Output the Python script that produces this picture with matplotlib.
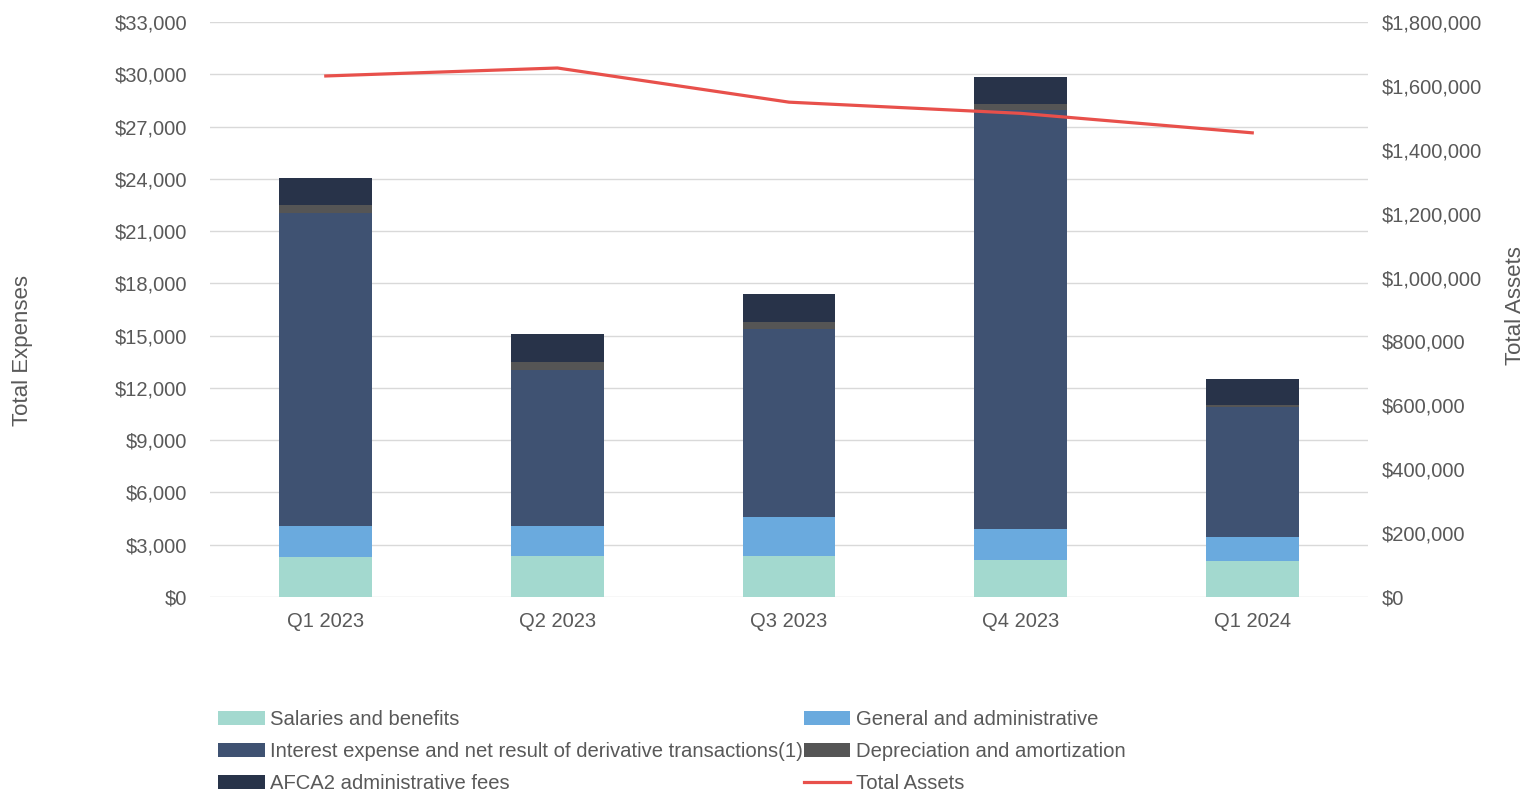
import matplotlib.pyplot as plt
import numpy as np
from matplotlib.ticker import FuncFormatter

OUTPUT_PATH = "out.png"

quarters = ["Q1 2023", "Q2 2023", "Q3 2023", "Q4 2023", "Q1 2024"]

salaries = [2300, 2340, 2345, 2120, 2080]
general_admin = [1765, 1705, 2250, 1795, 1345]
interest = [17980, 9010, 10770, 24030, 7480]
depreciation = [440, 440, 425, 345, 95]
afca_fees = [1570, 1590, 1600, 1530, 1500]

total_assets = [1631000, 1656000, 1549000, 1514000, 1453000]

series_names = [
    "Salaries and benefits",
    "General and administrative",
    "Interest expense and net result of derivative transactions(1)",
    "Depreciation and amortization",
    "AFCA2 administrative fees",
]
series_colors = ["#a3d9cf", "#6aaade", "#3f5272", "#555555", "#283349"]
line_color = "#e8504b"
text_color = "#595959"
grid_color = "#d9d9d9"


def money(v, pos):
    return "${:,.0f}".format(v)


def main():
    plt.rcParams["font.family"] = ["Liberation Sans", "DejaVu Sans"]
    plt.rcParams["font.size"] = 14.5

    fig = plt.figure(figsize=(15.26, 7.91), dpi=100)
    ax = fig.add_axes([0.1376, 0.2453, 0.7589, 0.7269])
    ax2 = ax.twinx()

    x = np.arange(len(quarters))
    bottom = np.zeros(len(quarters))
    handles = []
    for name, vals, color in zip(series_names,
                                 [salaries, general_admin, interest, depreciation, afca_fees],
                                 series_colors):
        b = ax.bar(x, vals, width=0.4, bottom=bottom, color=color, label=name, zorder=3)
        handles.append(b)
        bottom += np.array(vals)

    line, = ax2.plot(x, total_assets, color=line_color, linewidth=2.3, label="Total Assets")

    ax.set_xlim(-0.5, len(quarters) - 0.5)
    ax.set_ylim(0, 33000)
    ax.set_yticks(np.arange(0, 33001, 3000))
    ax.yaxis.set_major_formatter(FuncFormatter(money))
    ax2.set_ylim(0, 1800000)
    ax2.set_yticks(np.arange(0, 1800001, 200000))
    ax2.yaxis.set_major_formatter(FuncFormatter(money))

    ax.set_xticks(x)
    ax.set_xticklabels(quarters)
    ax.grid(axis="y", color=grid_color, linewidth=1, zorder=0)
    ax.set_axisbelow(True)

    for a in (ax, ax2):
        for s in a.spines.values():
            s.set_visible(False)
        a.tick_params(length=0, colors=text_color, labelsize=14.5)
    ax.tick_params(axis="y", pad=16.5)
    ax2.tick_params(axis="y", pad=10)
    ax.tick_params(axis="x", pad=11)

    ax.set_ylabel("Total Expenses", color=text_color, fontsize=16, va="center")
    ax.yaxis.set_label_coords(-0.162, 0.428)
    ax2.set_ylabel("Total Assets", color=text_color, fontsize=16, va="center")
    ax2.yaxis.set_label_coords(1.127, 0.506)

    # legend is row-major in the reference, matplotlib fills column-major
    order = [handles[0], handles[2], handles[4], handles[1], handles[3], line]
    fig.legend(
        order, [h.get_label() for h in order],
        loc="upper left", bbox_to_anchor=(0.143, 0.102),
        ncol=2, frameon=False, fontsize=14.6, labelcolor=text_color,
        handlelength=2.3, handleheight=0.65, handletextpad=0.25,
        columnspacing=0.05, labelspacing=0.63, borderpad=0, borderaxespad=0,
    )

    fig.savefig(OUTPUT_PATH, dpi=100)
    plt.close(fig)


if __name__ == "__main__":
    main()
